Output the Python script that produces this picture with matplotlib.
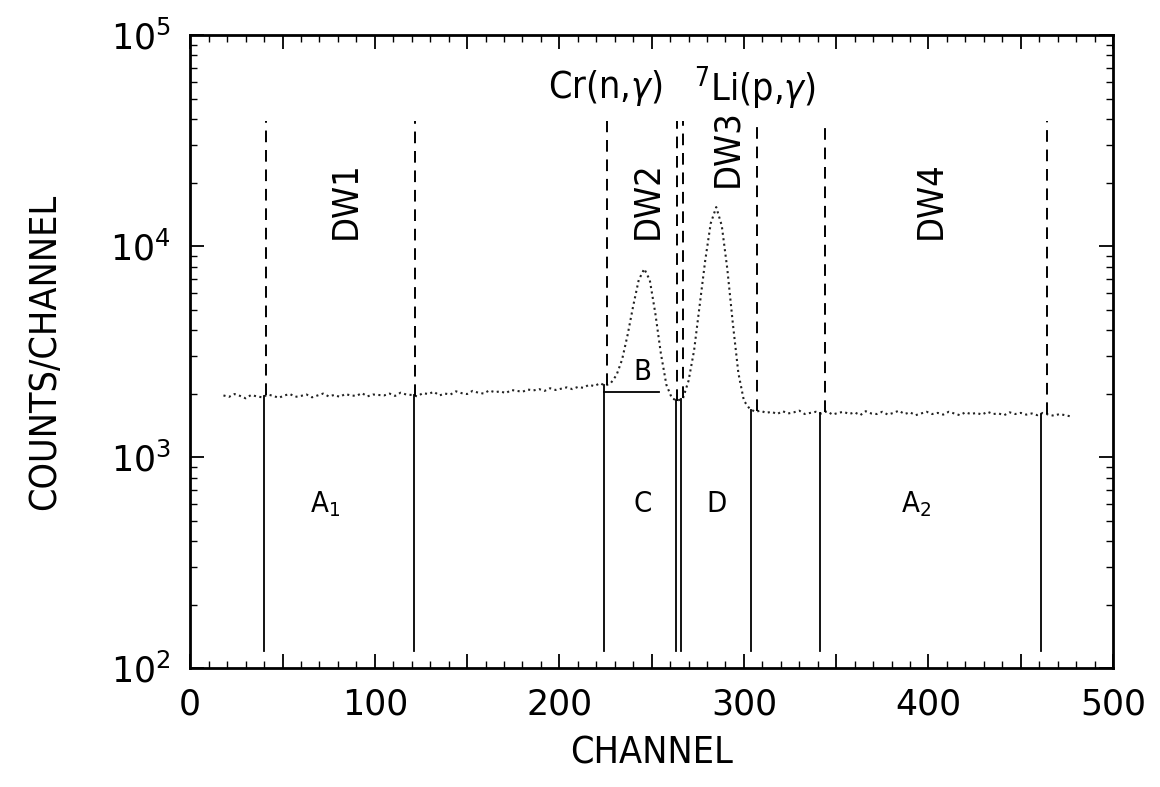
import numpy as np
import matplotlib
matplotlib.use("Agg")
import matplotlib.pyplot as plt

# spectrum, every 3 channels from 18 to 477
channels = np.arange(18, 478, 3)
counts = [
    1960, 1930, 1990, 1950, 1900, 1970, 1940, 1920, 1980, 1950,   # 18-45
    1910, 1960, 1990, 1930, 1950, 1980, 1920, 1960, 2000, 1940,   # 48-75
    1970, 1930, 1990, 1960, 1950, 2010, 1940, 1980, 1970, 1960,   # 78-105
    2000, 1950, 2020, 1980, 1970, 1940, 2010, 1990, 2040, 1960,   # 108-135
    2000, 1980, 2050, 2010, 1990, 2060, 2020, 2000, 2070, 2030,   # 138-165
    2050, 2010, 2080, 2060, 2040, 2090, 2070, 2100, 2060, 2120,   # 168-195
    2080, 2110, 2140, 2100, 2150, 2130, 2200, 2170,               # 198-219
    2240, 2180, 2250, 2450, 2900, 3800, 5200, 6900, 7800, 6900,   # 222-249
    4800, 3100, 2200, 1900, 1850, 1900, 2300, 3200, 5200, 8500,   # 252-279
    12800, 15300, 12500, 7800, 4300, 2500, 1850, 1700, 1640, 1660, # 282-309
    1620, 1640, 1600, 1650, 1610, 1630, 1660, 1600, 1620, 1640,   # 312-339
    1610, 1650, 1590, 1620, 1640, 1600, 1630, 1580, 1650, 1610,   # 342-369
    1600, 1640, 1590, 1620, 1660, 1600, 1630, 1580, 1610, 1640,   # 372-399
    1600, 1620, 1590, 1640, 1610, 1580, 1630, 1600, 1620, 1590,   # 402-429
    1640, 1600, 1610, 1580, 1630, 1600, 1620, 1590, 1610, 1580,   # 432-459
    1620, 1590, 1570, 1600, 1580, 1560,                           # 462-477
]

# window boundaries (channel)
dashed_pos = [41, 122, 226, 264, 267, 307, 344, 464]
solid_pos = [40, 121, 224, 263, 266, 304, 341, 461]
dashed_top = 39000
solid_bottom = 120

# DW2 baseline under peak B
b_base_x = [224, 254]
b_base_y = 2030

window_names = ["DW1", "DW2", "DW3", "DW4"]
window_x = [84, 248, 291, 401]
window_y = [16500, 16500, 29000, 16500]

region_names = [r"A$_{\mathregular{1}}$", "C", "D", r"A$_{\mathregular{2}}$"]
region_x = [73, 245, 285, 393]
region_y = 600

plt.rcParams["font.family"] = ["DejaVu Sans"]
plt.rcParams["font.stretch"] = "condensed"
plt.rcParams["mathtext.default"] = "regular"

fig = plt.figure(figsize=(11.6, 7.87), dpi=100)
ax = fig.add_axes([0.164, 0.151, 0.7955, 0.8045])

ax.plot(channels, counts, color="#222222", ls=":", lw=1.5)

for x in dashed_pos:
    lvl = np.interp(x, channels, counts)
    ax.plot([x, x], [lvl, dashed_top], color="black", lw=1.4, ls=(0, (6, 4)))
for x in solid_pos:
    lvl = np.interp(x, channels, counts)
    ax.plot([x, x], [solid_bottom, lvl], color="black", lw=1.3)
ax.plot(b_base_x, [b_base_y, b_base_y], color="black", lw=1.3)

for name, x, y in zip(window_names, window_x, window_y):
    ax.text(x, y, name, rotation=90, ha="center", va="center", fontsize=26)
for name, x in zip(region_names, region_x):
    ax.text(x, region_y, name, ha="center", va="center", fontsize=21)
ax.text(245, 2530, "B", ha="center", va="center", fontsize=21)
ax.text(225, 56000, r"Cr(n,$\mathit{\gamma}$)", ha="center", va="center", fontsize=27)
ax.text(306, 56000, r"$^{7}$Li(p,$\mathit{\gamma}$)", ha="center", va="center", fontsize=27)

ax.set_yscale("log")
ax.set_xlim(0, 500)
ax.set_ylim(100, 100000)
ax.set_xticks(range(0, 501, 50))
ax.set_xticklabels([str(v) if v % 100 == 0 else "" for v in range(0, 501, 50)])
ax.set_xticks(range(0, 501, 10), minor=True)
ax.tick_params(which="both", direction="in", top=True, right=True, labelsize=25, pad=14)
ax.tick_params(which="major", length=10, width=1.3)
ax.tick_params(which="minor", length=5, width=1.0)
for lbl in ax.get_xticklabels() + ax.get_yticklabels():
    lbl.set_fontstretch("normal")
for s in ax.spines.values():
    s.set_linewidth(2)

ax.set_xlabel("CHANNEL", fontsize=27, labelpad=10)
ax.set_ylabel("COUNTS/CHANNEL", fontsize=27, labelpad=34)

fig.savefig("out.png", dpi=100)
